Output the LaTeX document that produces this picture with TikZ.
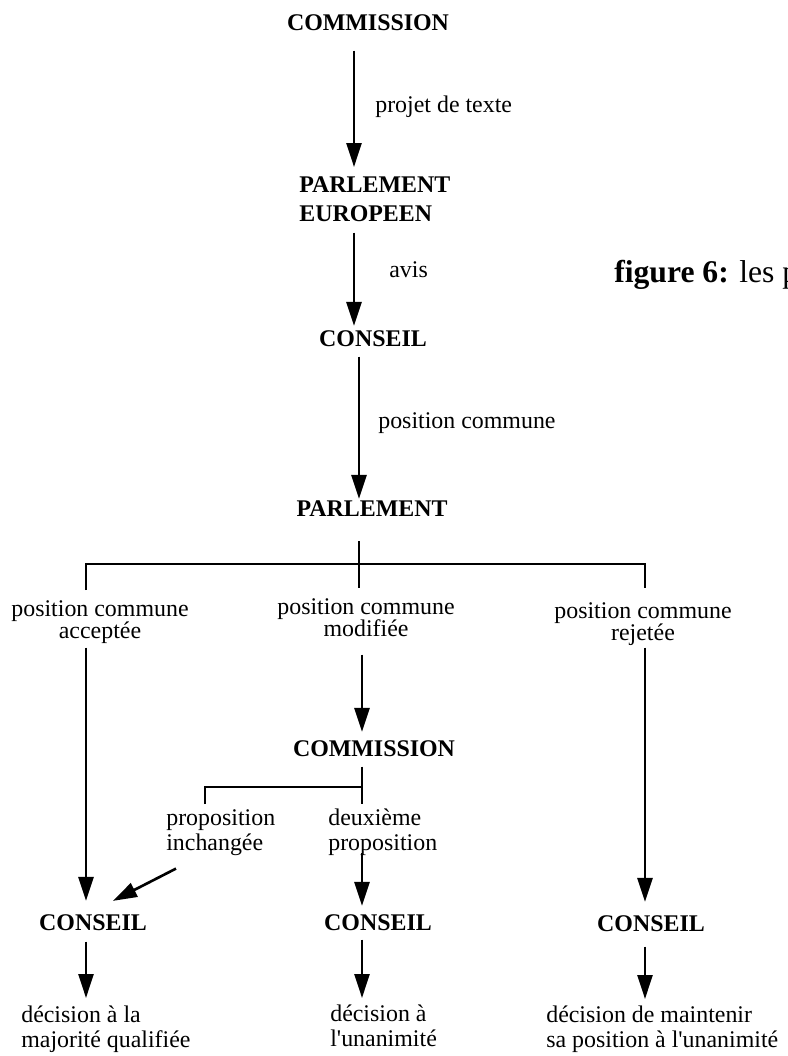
\documentclass[tikz,border=0pt]{standalone}
\usepackage{fontspec}
\setmainfont{Liberation Serif}
\usetikzlibrary{arrows.meta,calc}

\begin{document}
\begin{tikzpicture}[line width=1.5pt, >={Triangle[length=4.8mm,width=3mm]}]
	\tikzstyle{organ} = [inner sep=0pt, font=\fontsize{13.6}{17}\selectfont\bfseries]
	\tikzstyle{note} = [inner sep=0pt, font=\fontsize{13.6}{12.5}\selectfont]
	\tikzstyle{result} = [inner sep=0pt, font=\fontsize{13.6}{14.2}\selectfont]
	\tikzstyle{forkline} = [line width=1.3pt]
	\useasboundingbox (0,0) rectangle (15.76,-21.12);
	\node (com1) [organ, anchor=base] at (7.36,-0.60) {COMMISSION};
	\node (parl1) [organ, anchor=north west, align=left] at (5.96,-3.50) {PARLEMENT\\EUROPEEN};
	\node (cons1) [organ, anchor=base] at (7.46,-6.92) {CONSEIL};
	\node (parl2) [organ, anchor=base] at (7.44,-10.32) {PARLEMENT};
	\node (projet) [note, anchor=base west] at (7.48,-2.24) {projet de texte};
	\node (avis) [note, anchor=base west] at (7.76,-5.54) {avis};
	\node (poscom) [note, anchor=base west] at (7.54,-8.56) {position commune};
	\node (fig) [anchor=base west, inner sep=0pt, font=\fontsize{18}{20}\selectfont] at (12.26,-5.64) {\textbf{figure 6:} les p};
	\node (acc) [note, anchor=north, align=center] at (2.00,-11.98) {position commune\\acceptée};
	\node (mod) [note, anchor=north, align=center] at (7.32,-11.94) {position commune\\modifiée};
	\node (rej) [note, anchor=north, align=center] at (12.86,-12.02) {position commune\\rejetée};
	\node (com2) [organ, anchor=base] at (7.48,-15.12) {COMMISSION};
	\node (prop) [result, anchor=north west, align=left] at (3.30,-16.16) {proposition\\inchangée};
	\node (deux) [result, anchor=north west, align=left] at (6.54,-16.16) {deuxième\\proposition};
	\node (consL) [organ, anchor=base] at (1.86,-18.60) {CONSEIL};
	\node (consM) [organ, anchor=base] at (7.56,-18.60) {CONSEIL};
	\node (consR) [organ, anchor=base] at (13.02,-18.62) {CONSEIL};
	\node (decL) [result, anchor=north west, align=left] at (0.40,-20.10) {décision à la\\majorité qualifiée};
	\node (decM) [result, anchor=north west, align=left] at (6.58,-20.08) {décision à\\l\textquotesingle unanimité};
	\node (decR) [result, anchor=north west, align=left] at (10.90,-20.10) {décision de maintenir\\sa position à l\textquotesingle unanimité};

	\coordinate (colA) at (7.08,0);
	\coordinate (colB) at (7.18,0);
	\coordinate (colC) at (7.24,0);
	\coordinate (colL) at (1.72,0);
	\coordinate (colR) at (12.90,0);
	\coordinate (colP) at (4.10,0);
	\coordinate (fork) at (7.18,-11.28);
	\coordinate (fork2) at (7.24,-15.74);

	\draw [->, shorten <=0.38cm, shorten >=0.16cm] (com1.south -| colA) -- (parl1.north -| colA);
	\draw [->, shorten <=0.18cm, shorten >=0.06cm] (parl1.south -| colA) -- (cons1.north -| colA);
	\draw [->, shorten <=0.18cm] (cons1.south -| colB) -- (parl2.north -| colB);
	\draw [shorten <=0.48cm, shorten >=0.18cm] (parl2.south -| fork) -- (mod.north -| fork);
	\draw [forkline] ([yshift=0.18cm]acc.north -| colL) |- (fork) -| ([yshift=0.26cm]rej.north -| colR);
	\draw [->, shorten <=0.06cm, shorten >=0.24cm] (acc.south -| colL) -- (consL.north -| colL);
	\draw [->, shorten <=0.34cm, shorten >=0.14cm] (mod.south -| colC) -- (com2.north -| colC);
	\draw [->, shorten <=0.02cm, shorten >=0.24cm] (rej.south -| colR) -- (consR.north -| colR);
	\draw [shorten <=0.18cm, shorten >=0.08cm] (com2.south -| fork2) -- (deux.north -| fork2);
	\draw [forkline] ([yshift=0.08cm]prop.north -| colP) |- (fork2);
	\draw [->] ([xshift=0.22cm,yshift=-0.24cm]prop.south west) -- ([xshift=0.40cm,yshift=0.24cm]consL.north);
	\draw [->, shorten <=-0.08cm, shorten >=0.14cm] (deux.south -| colC) -- (consM.north -| colC);
	\draw [->, shorten <=0.20cm, shorten >=0.14cm] (consL.south -| colL) -- (decL.north -| colL);
	\draw [->, shorten <=0.16cm, shorten >=0.12cm] (consM.south -| colC) -- (decM.north -| colC);
	\draw [->, shorten <=0.28cm, shorten >=0.12cm] (consR.south -| colR) -- (decR.north -| colR);
\end{tikzpicture}
\end{document}
